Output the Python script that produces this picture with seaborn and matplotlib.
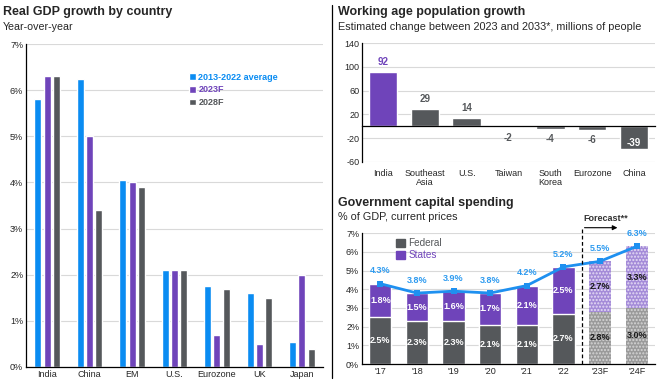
import pandas as pd
import numpy as np
import matplotlib.pyplot as plt
import seaborn as sns
from matplotlib.ticker import FixedLocator, PercentFormatter
from matplotlib.patches import Patch

sns.set_style("white")
plt.rcParams['font.family'] = ['Liberation Sans', 'DejaVu Sans']
plt.rcParams['axes.unicode_minus'] = False

BLUE = "#0A8CF2"
PURPLE = "#6F44BA"
GRAY = "#55585B"
GRID = "#D9D9D9"

# GDP growth data
gdp_countries = ["India", "China", "EM", "U.S.", "Eurozone", "UK", "Japan"]
gdp_avg = [5.8, 6.25, 4.05, 2.1, 1.75, 1.6, 0.55]
gdp_2023 = [6.3, 5.0, 4.0, 2.1, 0.7, 0.5, 2.0]
gdp_2028 = [6.3, 3.4, 3.9, 2.1, 1.7, 1.5, 0.4]
gdp_series = ["2013-2022 average", "2023F", "2028F"]

# working age population data
pop_regions = ["India", "Southeast\nAsia", "U.S.", "Taiwan", "South\nKorea", "Eurozone", "China"]
pop_change = [92, 29, 14, -2, -4, -6, -39]

# government capital spending data
cap_years = ["'17", "'18", "'19", "'20", "'21", "'22", "'23F", "'24F"]
cap_federal = [2.5, 2.3, 2.3, 2.1, 2.1, 2.7, 2.8, 3.0]
cap_states = [1.8, 1.5, 1.6, 1.7, 2.1, 2.5, 2.7, 3.3]
cap_total = [4.3, 3.8, 3.9, 3.8, 4.2, 5.2, 5.5, 6.3]
n_forecast = 2


def boundary_ticks(ax, n):
    ax.xaxis.set_minor_locator(FixedLocator(np.arange(n + 1) - 0.5))
    ax.tick_params(axis='x', which='minor', length=3, width=0.8, color='black', direction='out')
    ax.tick_params(axis='x', which='major', length=0)


def style_axes(ax):
    for s in ['top', 'right']:
        ax.spines[s].set_visible(False)
    ax.spines['left'].set_color('black')
    ax.spines['left'].set_linewidth(0.9)
    ax.spines['bottom'].set_color('black')
    ax.spines['bottom'].set_linewidth(0.9)
    ax.yaxis.grid(True, color=GRID, linewidth=0.8)
    ax.set_axisbelow(True)
    ax.tick_params(axis='both', labelsize=6.5, pad=2)
    ax.tick_params(axis='y', length=0)
    ax.set_xlabel('')
    ax.set_ylabel('')


fig = plt.figure(figsize=(6.62, 3.87), dpi=100)

# ---------- left: real GDP growth ----------
ax1 = fig.add_axes([26 / 662, 1 - 367 / 387, 297 / 662, 323 / 387])
gdp = pd.DataFrame({"country": gdp_countries, gdp_series[0]: gdp_avg,
                    gdp_series[1]: gdp_2023, gdp_series[2]: gdp_2028})
gdp_long = gdp.melt(id_vars="country", var_name="series", value_name="value")
sns.barplot(data=gdp_long, x="country", y="value", hue="series", ax=ax1,
            palette=[BLUE, PURPLE, GRAY], width=0.66, gap=0.25, saturation=1)
ax1.set_ylim(0, 7)
ax1.set_xlim(-0.5, len(gdp_countries) - 0.5)
ax1.yaxis.set_major_formatter(PercentFormatter(decimals=0))
style_axes(ax1)
boundary_ticks(ax1, len(gdp_countries))
leg = ax1.legend(loc='upper left', bbox_to_anchor=(0.535, 0.925), frameon=False,
                 fontsize=6.5, handlelength=0.75, handleheight=0.75, handletextpad=0.25,
                 labelspacing=0.4, borderpad=0)
for txt, c in zip(leg.get_texts(), [BLUE, PURPLE, GRAY]):
    txt.set_color(c)
    txt.set_fontweight('bold')

fig.text(3 / 662, 1 - 12 / 387, "Real GDP growth by country", fontsize=9,
         fontweight='bold', va='center', ha='left')
fig.text(3 / 662, 1 - 27 / 387, "Year-over-year", fontsize=7.7, va='center', ha='left')

# divider
fig.add_artist(plt.Line2D([332 / 662, 332 / 662], [1 - 378 / 387, 1 - 5 / 387],
                          color='black', linewidth=0.9))

# ---------- top right: working age population ----------
ax2 = fig.add_axes([362 / 662, 1 - 161.7 / 387, 293 / 662, 118.4 / 387])
pop = pd.DataFrame({"region": pop_regions, "change": pop_change})
pop_colors = [PURPLE if r == "India" else GRAY for r in pop_regions]
sns.barplot(data=pop, x="region", y="change", hue="region", palette=pop_colors,
            legend=False, ax=ax2, width=0.68, saturation=1)
ax2.set_ylim(-60, 140)
ax2.set_xlim(-0.5, len(pop_regions) - 0.5)
ax2.set_yticks([-60, -20, 20, 60, 100, 140])
style_axes(ax2)
ax2.spines['bottom'].set_position(('data', 0))
boundary_ticks(ax2, len(pop_regions))
ax2.tick_params(axis='x', which='major', pad=31)
for lbl in ax2.get_xticklabels():
    lbl.set_linespacing(0.95)
for i, v in enumerate(pop_change):
    if v > 0:
        ax2.text(i, v + 8, f"{v}", ha='center', va='bottom', fontsize=7,
                 fontweight='bold', color=pop_colors[i])
    elif v > -20:
        ax2.text(i, v - 18, f"{v}", ha='center', va='center', fontsize=7,
                 fontweight='bold', color=GRAY)
    else:
        ax2.text(i, -28, f"{v}", ha='center', va='center', fontsize=7,
                 fontweight='bold', color='white')

fig.text(338 / 662, 1 - 12 / 387, "Working age population growth", fontsize=9,
         fontweight='bold', va='center', ha='left')
fig.text(338 / 662, 1 - 27 / 387, "Estimated change between 2023 and 2033*, millions of people",
         fontsize=7.8, va='center', ha='left')

# ---------- bottom right: government capital spending ----------
ax3 = fig.add_axes([362 / 662, 1 - 364 / 387, 293 / 662, 130.7 / 387])
cap = pd.DataFrame({"year": cap_years, "federal": cap_federal, "states": cap_states,
                    "total": cap_total})
cap["stack"] = cap["federal"] + cap["states"]
sns.barplot(data=cap, x="year", y="stack", color=PURPLE, ax=ax3, width=0.61,
            saturation=1, label="States")
sns.barplot(data=cap, x="year", y="federal", color=GRAY, ax=ax3, width=0.61,
            saturation=1, label="Federal")
n = len(cap_years)
states_bars = ax3.patches[:n]
fed_bars = ax3.patches[n:2 * n]
for b in states_bars[-n_forecast:]:
    b.set_facecolor("#A48BD8")
    b.set_hatch('.....')
    b.set_edgecolor('#E6DDF5')
    b.set_linewidth(0)
for b in fed_bars[-n_forecast:]:
    b.set_facecolor("#9A9A9A")
    b.set_hatch('.....')
    b.set_edgecolor('#D6D6D6')
    b.set_linewidth(0)

sns.lineplot(data=cap, x="year", y="total", ax=ax3, color="#1E90F0", linewidth=2,
             marker='s', markersize=5, markeredgewidth=0, sort=False)
ax3.set_ylim(0, 7)
ax3.set_xlim(-0.5, n - 0.5)
ax3.yaxis.set_major_formatter(PercentFormatter(decimals=0))
style_axes(ax3)
boundary_ticks(ax3, n)

for i in range(n):
    fc = 'white' if i < n - n_forecast else '#1A1A1A'
    ax3.text(i, cap_federal[i] / 2, f"{cap_federal[i]:.1f}%", ha='center', va='center',
             fontsize=6.5, fontweight='bold', color=fc)
    ax3.text(i, cap_federal[i] + cap_states[i] / 2, f"{cap_states[i]:.1f}%", ha='center',
             va='center', fontsize=6.5, fontweight='bold', color=fc)
    ax3.text(i, cap_total[i] + 0.45, f"{cap_total[i]:.1f}%", ha='center', va='bottom',
             fontsize=6.5, fontweight='bold', color="#2E9BF0")

ax3.axvline(n - n_forecast - 0.5, ymin=0, ymax=1.04, color='black', linewidth=0.9,
            linestyle=(0, (3, 2)), clip_on=False)
ax3.annotate("", xy=(n - n_forecast + 0.55, 7.3), xytext=(n - n_forecast - 0.5, 7.3),
             arrowprops=dict(arrowstyle='-|>', color='black', lw=0.8, mutation_scale=7),
             annotation_clip=False)
ax3.text(n - n_forecast - 0.45, 7.55, "Forecast**", fontsize=6.5, fontweight='bold',
         color='#333333', ha='left', va='bottom')

handles = [Patch(color=GRAY, label="Federal"), Patch(color=PURPLE, label="States")]
leg3 = ax3.legend(handles=handles, loc='upper left', bbox_to_anchor=(0.1, 1.0),
                  frameon=False, fontsize=7.2, handlelength=0.9, handleheight=0.9,
                  handletextpad=0.3, labelspacing=0.2, borderpad=0)
for txt, c in zip(leg3.get_texts(), [GRAY, PURPLE]):
    txt.set_color(c)

fig.text(338 / 662, 1 - 203 / 387, "Government capital spending", fontsize=9,
         fontweight='bold', va='center', ha='left')
fig.text(338 / 662, 1 - 217 / 387, "% of GDP, current prices", fontsize=7.8,
         va='center', ha='left')

fig.savefig("out.png", dpi=100)
